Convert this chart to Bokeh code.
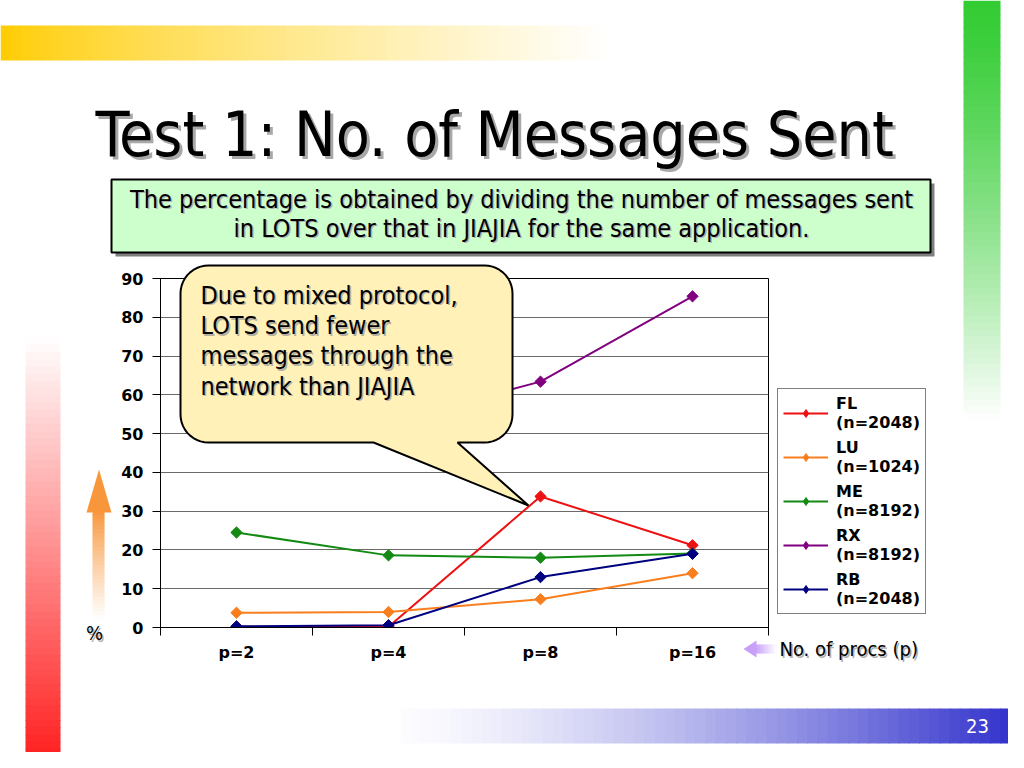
import numpy as np
from bokeh.plotting import figure
from bokeh.models import (Range1d, FixedTicker, Label, Legend, LegendItem, GridBox)
from bokeh.embed import file_html
from bokeh.resources import INLINE

# ---------------- data ----------------
categories = ["p=2", "p=4", "p=8", "p=16"]
series_labels = ["FL\n(n=2048)", "LU\n(n=1024)", "ME\n(n=8192)", "RX\n(n=8192)", "RB\n(n=2048)"]
fl = [0.2, 0.2, 33.8, 21.2]
lu = [3.8, 4.0, 7.3, 14.0]
me = [24.5, 18.6, 18.0, 19.1]
rx = [50.0, 53.0, 63.4, 85.4]
rb = [0.3, 0.6, 13.0, 19.0]
y_ticks = [0, 10, 20, 30, 40, 50, 60, 70, 80, 90]

title_text = "Test 1: No. of Messages Sent"
note_lines = ["The percentage is obtained by dividing the number of messages sent",
              "in LOTS over that in JIAJIA for the same application."]
callout_lines = ["Due to mixed protocol,", "LOTS send fewer",
                 "messages through the", "network than JIAJIA"]
x_caption = "No. of procs (p)"
y_caption = "%"
page_number = "23"

series = [fl, lu, me, rx, rb]
colors = ["#EE1111", "#F97E1E", "#138A13", "#800080", "#000080"]

SLIDE_FONT = "DejaVu Sans Condensed"
CHART_FONT = "DejaVu Sans"
W, H = 1008, 752

# ---------------- chart figure ----------------
p = figure(width=W, height=H, x_range=Range1d(0, len(categories)),
           y_range=Range1d(y_ticks[0], y_ticks[-1]),
           output_backend="svg", toolbar_location=None, tools="",
           min_border_left=160, min_border_right=W - 768,
           min_border_top=278, min_border_bottom=H - 627,
           background_fill_color="white", border_fill_color="white",
           frame_align=False)
p.outline_line_color = "black"
p.outline_line_width = 1

xs = [i + 0.5 for i in range(len(categories))]

xa = p.xaxis[0]
xa.ticker = FixedTicker(ticks=xs, minor_ticks=list(range(len(categories) + 1)))
xa.major_label_overrides = {x: c for x, c in zip(xs, categories)}
xa.major_tick_line_color = None
xa.major_tick_out = 0
xa.major_tick_in = 0
xa.minor_tick_line_color = "black"
xa.minor_tick_out = 8
xa.minor_tick_in = 0
xa.axis_line_color = "black"
xa.major_label_standoff = 7
xa.major_label_text_font = CHART_FONT
xa.major_label_text_font_style = "bold"
xa.major_label_text_font_size = "16px"
xa.major_label_text_color = "black"

ya = p.yaxis[0]
ya.ticker = FixedTicker(ticks=y_ticks, minor_ticks=[])
ya.major_tick_out = 8
ya.major_tick_in = 0
ya.major_tick_line_color = "black"
ya.minor_tick_line_color = None
ya.axis_line_color = "black"
ya.major_label_standoff = 9
ya.major_label_text_font = CHART_FONT
ya.major_label_text_font_style = "bold"
ya.major_label_text_font_size = "16px"
ya.major_label_text_color = "black"

p.xgrid.visible = False
p.ygrid.grid_line_color = "#6a6a6a"
p.ygrid.grid_line_width = 1

for vals, col in zip(series, colors):
    p.line(xs, vals, line_color=col, line_width=2)
    p.scatter(xs, vals, marker="square", angle=np.pi / 4, size=8,
              fill_color=col, line_color=col)

# ---------------- overlay figure (slide decorations, pixel coords) ----------------
ov = figure(width=W, height=H, x_range=Range1d(0, W), y_range=Range1d(H, 0),
            output_backend="svg", toolbar_location=None, tools="",
            min_border=0, x_axis_location=None, y_axis_location=None,
            background_fill_color=None, border_fill_color=None,
            outline_line_color=None, frame_align=False)
ov.grid.visible = False


def hexcol(c):
    return "#%02x%02x%02x" % tuple(int(round(v)) for v in c)


def blend(c0, c1, t):
    return hexcol([a + (b - a) * t for a, b in zip(c0, c1)])


def hgrad(x0, x1, y0, y1, c0, c1, n, gamma=1.0):
    w = (x1 - x0) / n
    L = [x0 + i * w for i in range(n)]
    R = [x0 + (i + 1) * w + 0.8 for i in range(n)]
    C = [blend(c0, c1, ((i + 0.5) / n) ** gamma) for i in range(n)]
    ov.quad(left=L, right=R, top=[y0] * n, bottom=[y1] * n,
            fill_color=C, line_color=None)


def vgrad(x0, x1, y0, y1, c0, c1, n, gamma=1.0):
    h = (y1 - y0) / n
    T = [y0 + i * h for i in range(n)]
    B = [y0 + (i + 1) * h + 0.8 for i in range(n)]
    C = [blend(c0, c1, ((i + 0.5) / n) ** gamma) for i in range(n)]
    ov.quad(left=[x0] * n, right=[x1] * n, top=T, bottom=B,
            fill_color=C, line_color=None)


WHITE = (255, 255, 255)
hgrad(0, 610, 25, 60, (255, 204, 0), WHITE, 60, 0.8)          # top yellow bar
vgrad(963, 1000, 0, 420, (51, 204, 51), WHITE, 60, 1.3)       # right green bar
vgrad(25, 60, 337, 770, WHITE, (255, 26, 26), 60, 1.0)        # left red bar
hgrad(400, 1010, 708, 743, (252, 252, 255), (51, 51, 204), 60, 1.4)  # bottom blue bar

ORANGE = (248, 150, 60)
vgrad(92, 104, 511, 618, ORANGE, WHITE, 30, 0.9)
ov.patch([86, 111, 98.5], [512, 512, 469], fill_color=hexcol(ORANGE), line_color=None)

LAV = (200, 160, 250)
hgrad(755, 776, 644, 653, LAV, WHITE, 10, 1.0)
ov.patch([743, 756, 756], [648.5, 640, 657], fill_color=hexcol(LAV), line_color=None)

# note box with shadow
ov.quad(left=[115], right=[934], top=[183], bottom=[256], fill_color="#7f7f7f", line_color=None)
ov.quad(left=[111], right=[930], top=[179], bottom=[252], fill_color="#CCFFCC",
        line_color="black", line_width=2)

# callout with tail
x0, x1, y0, y1, r = 180, 512, 265, 442, 28
cx, cy = [], []


def arc(ccx, ccy, a0, a1):
    for a in np.linspace(a0, a1, 12):
        cx.append(float(ccx + r * np.cos(a)))
        cy.append(float(ccy + r * np.sin(a)))


arc(x1 - r, y0 + r, -np.pi / 2, 0)
arc(x1 - r, y1 - r, 0, np.pi / 2)
cx += [457, 528, 373]
cy += [y1, 505, y1]
arc(x0 + r, y1 - r, np.pi / 2, np.pi)
arc(x0 + r, y0 + r, np.pi, 1.5 * np.pi)
ov.patch(cx, cy, fill_color="#FFF1B8", line_color="black", line_width=2)

# legend (drawn on the overlay so it is not clipped by the chart frame);
# its sample renderers sit off-canvas and only supply the legend glyph styles
items = []
for lab, col in zip(series_labels, colors):
    lr = ov.line([-60, -40], [-60, -60], line_color=col, line_width=2)
    sr = ov.scatter([-50], [-60], marker="diamond", size=12, fill_color=col, line_color=col)
    items.append(LegendItem(label=lab, renderers=[lr, sr]))
legend = Legend(items=items, location=(777, H - 614), border_line_color="black",
                border_line_width=1, background_fill_color="white",
                background_fill_alpha=1, padding=5, spacing=6,
                glyph_width=45, glyph_height=20, label_standoff=8,
                label_text_font=CHART_FONT, label_text_font_style="bold",
                label_text_font_size="16px", label_text_line_height=1.2,
                label_text_color="black", margin=0)
ov.add_layout(legend)


def label(x, y, text, size, font=SLIDE_FONT, color="black", align="left",
          shadow=None, sh=2):
    y = y - 0.365 * size          # place the alphabetic baseline at y
    fs = "%gpx" % size
    if shadow:
        ov.add_layout(Label(x=x + sh, y=y + sh, text=text, text_font=font,
                            text_font_size=fs, text_color=shadow,
                            text_align=align, text_baseline="alphabetic"))
    ov.add_layout(Label(x=x, y=y, text=text, text_font=font, text_font_size=fs,
                        text_color=color, text_align=align, text_baseline="alphabetic"))


label(95, 157, title_text, 62, shadow="#a8a8a8", sh=3)
label(521, 208, note_lines[0], 25, align="center", shadow="#b0b0b0", sh=1.5)
label(521, 237, note_lines[1], 25, align="center", shadow="#b0b0b0", sh=1.5)
for i, ln in enumerate(callout_lines):
    label(200, 304 + i * 30.3, ln, 25, shadow="#b8b0a0", sh=1.5)
label(779, 656, x_caption, 20, shadow="#b0b0b0", sh=1.5)
label(94, 640, y_caption, 20, align="center", shadow="#b0b0b0", sh=1.5)
label(977, 733, page_number, 20, color="white", align="center")

root = GridBox(children=[(p, 0, 0), (ov, 0, 0)])
open("out.html", "w").write(file_html(root, INLINE))
